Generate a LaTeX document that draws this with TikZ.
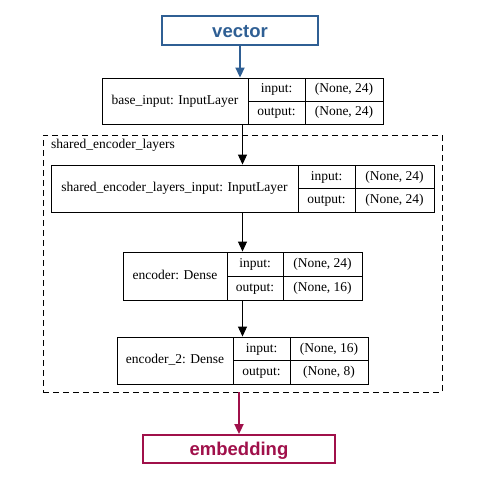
\documentclass[tikz,border=0pt]{standalone}
\usepackage{fontspec}
\setmainfont{Liberation Serif}
\newfontfamily\headfont{Liberation Sans}
\usetikzlibrary{positioning,arrows.meta}
\definecolor{vecblue}{RGB}{47,95,148}
\definecolor{embred}{RGB}{160,16,74}

\tikzset{
  cell/.style={draw, line width=0.9pt, inner sep=0pt, text height=9.5pt, text depth=3pt,
    font=\fontsize{13.5}{16}\selectfont},
  endpoint/.style={draw, line width=1.8pt, inner sep=0pt, text height=13pt, text depth=0pt,
    font=\headfont\bfseries\fontsize{18.5}{22}\selectfont},
  flow/.style={-{Triangle[length=10pt,width=9pt]}, line width=0.9pt},
  cluster/.style={draw, line width=0.9pt, dash pattern=on 6pt off 4pt, inner sep=0pt}
}

\begin{document}
\begin{tikzpicture}[x=1pt, y=-1pt]
\useasboundingbox (0,0) rectangle (480,480);

% Eingang und Ausgang
\node[endpoint, vecblue, minimum width=156pt, minimum height=29pt] (vector) at (240,30.5) {vector};
\node[endpoint, embred, minimum width=192pt, minimum height=28pt] (embedding) at (239,449) {embedding};

% gestrichelter Rahmen
\node[cluster, minimum width=399pt, minimum height=257pt] (shared) at (242.5,263.5) {};
\node[anchor=west, inner sep=0pt, font=\fontsize{13.5}{16}\selectfont] (sharedlbl) at (51,145) {shared\_encoder\_layers};

% Schichten
\foreach \id/\xa/\xb/\xc/\xd/\ya/\yb/\lbl/\vin/\vout in {
  base/102/248/305/383/78/124/{base\_input: InputLayer}/{(None, 24)}/{(None, 24)},
  sel/51/298/355/434/165/212/{shared\_encoder\_layers\_input: InputLayer}/{(None, 24)}/{(None, 24)},
  enc/123/227/283/362/252/300/{encoder: Dense}/{(None, 24)}/{(None, 16)},
  enctwo/117/233/290/368/337/384/{encoder\_2: Dense}/{(None, 16)}/{(None, 8)}%
}{
  \pgfmathsetmacro\ym{(\ya+\yb)/2}
  \node[cell, minimum width={(\xd-\xa)*1pt}, minimum height={(\yb-\ya)*1pt}] (\id) at ({(\xa+\xd)/2},\ym) {};
  \node[cell, minimum width={(\xb-\xa)*1pt}, minimum height={(\yb-\ya)*1pt}] (\id-name) at ({(\xa+\xb)/2},\ym) {\lbl};
  \node[cell, minimum width={(\xc-\xb)*1pt}, minimum height={(\ym-\ya)*1pt}] (\id-inl) at ({(\xb+\xc)/2},{(\ya+\ym)/2}) {input:};
  \node[cell, minimum width={(\xc-\xb)*1pt}, minimum height={(\yb-\ym)*1pt}] (\id-outl) at ({(\xb+\xc)/2},{(\ym+\yb)/2}) {output:};
  \node[cell, minimum width={(\xd-\xc)*1pt}, minimum height={(\ym-\ya)*1pt}] (\id-inv) at ({(\xc+\xd)/2},{(\ya+\ym)/2}) {\vin};
  \node[cell, minimum width={(\xd-\xc)*1pt}, minimum height={(\yb-\ym)*1pt}] (\id-outv) at ({(\xc+\xd)/2},{(\ym+\yb)/2}) {\vout};
}

% Pfeile
\draw[flow, vecblue, line width=1.8pt] (vector.south) -- (vector.south |- base.north);
\draw[flow] (base.south) -- (sel.north);
\draw[flow] (sel.south) -- (enc.north);
\draw[flow] (enc.south) -- (enctwo.north);
\draw[flow, embred, line width=1.8pt] (embedding.north |- shared.south) -- (embedding.north);
\end{tikzpicture}
\end{document}
